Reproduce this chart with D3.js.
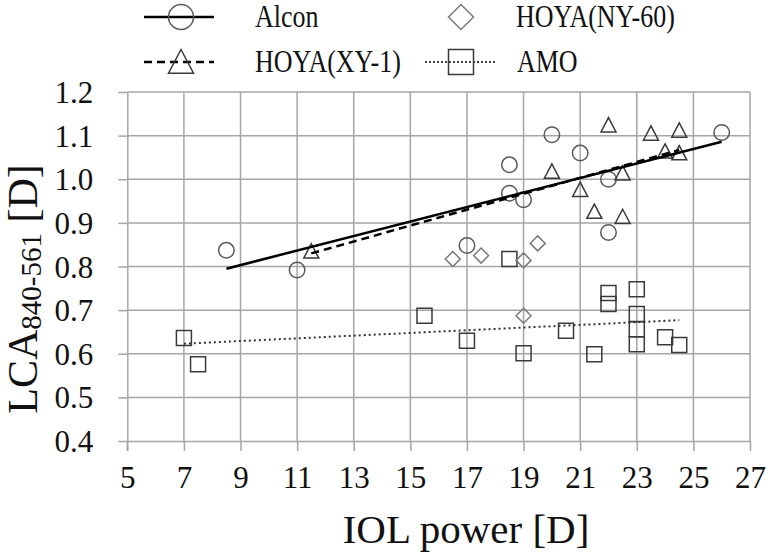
<!DOCTYPE html>
<html>
<head>
<meta charset="utf-8">
<script src="https://cdn.jsdelivr.net/npm/d3@7"></script>
<style>
  body { margin: 0; background: #fff; }
  text { font-family: "Liberation Serif", "Times New Roman", serif; fill: #111; }
</style>
</head>
<body>
<div id="chart"></div>
<script>
// values
const alconX = [8.5, 11, 17, 18.5, 18.5, 19, 20, 21, 22, 22, 26];
const alconY = [0.837, 0.792, 0.848, 1.033, 0.968, 0.953, 1.102, 1.060, 1.000, 0.878, 1.107];

const xy1X = [11.5, 20, 21, 21.5, 22, 22.5, 22.5, 23.5, 24, 24.5, 24.5];
const xy1Y = [0.835, 1.018, 0.976, 0.926, 1.124, 1.014, 0.914, 1.105, 1.064, 1.112, 1.060];

const ny60X = [16.5, 17.5, 19, 19, 19.5];
const ny60Y = [0.817, 0.825, 0.814, 0.687, 0.853];

const amoX = [7, 7.5, 15.5, 17, 18.5, 19, 20.5, 21.5, 22, 22, 23, 23, 23, 23, 24, 24.5];
const amoY = [0.636, 0.576, 0.687, 0.630, 0.817, 0.601, 0.653, 0.599, 0.739, 0.714, 0.748, 0.691, 0.656, 0.622, 0.638, 0.620];

// trend line end points
const alconFit = [[8.5, 0.795], [26, 1.086]];
const xy1Fit = [[11.5, 0.830], [24.5, 1.067]];
const amoFit = [[7, 0.623], [24.5, 0.677]];

const xTicks = [5, 7, 9, 11, 13, 15, 17, 19, 21, 23, 25, 27];
const yTicks = [0.4, 0.5, 0.6, 0.7, 0.8, 0.9, 1.0, 1.1, 1.2];

const width = 766, height = 555;
const margin = { top: 92, right: 16, bottom: 114, left: 127.3 };
const gridColor = "#a6a6a6";

const svg = d3.select("#chart")
  .append("svg")
  .attr("width", width)
  .attr("height", height)
  .attr("viewBox", [0, 0, width, height]);

const x = d3.scaleLinear()
  .domain([5, 27])
  .range([margin.left, width - margin.right]);

const y = d3.scaleLinear()
  .domain([0.4, 1.2])
  .range([height - margin.bottom, margin.top]);

// grid
svg.append("g")
  .selectAll("line.v")
  .data(xTicks.slice(1))
  .join("line")
  .attr("x1", d => x(d)).attr("x2", d => x(d))
  .attr("y1", y(1.2)).attr("y2", y(0.4))
  .attr("stroke", gridColor).attr("stroke-width", 1.5);

svg.append("g")
  .selectAll("line.h")
  .data(yTicks.slice(1))
  .join("line")
  .attr("x1", x(5)).attr("x2", x(27))
  .attr("y1", d => y(d)).attr("y2", d => y(d))
  .attr("stroke", gridColor).attr("stroke-width", 1.5);

// axes
const xAxis = svg.append("g")
  .attr("transform", `translate(0,${y(0.4)})`)
  .call(d3.axisBottom(x).tickValues(xTicks).tickSize(10).tickSizeOuter(0));
xAxis.select(".domain").attr("stroke", gridColor).attr("stroke-width", 1.5);
xAxis.selectAll(".tick line").attr("stroke", gridColor).attr("stroke-width", 1.5);
xAxis.selectAll(".tick text")
  .attr("y", 47).attr("dy", 0)
  .attr("font-size", 31)
  .attr("font-family", "Liberation Serif")
  .attr("fill", "#111");

const yAxis = svg.append("g")
  .attr("transform", `translate(${x(5)},0)`)
  .call(d3.axisLeft(y).tickValues(yTicks).tickSize(9).tickSizeOuter(0)
    .tickFormat(d3.format(".1f")));
yAxis.select(".domain").attr("stroke", gridColor).attr("stroke-width", 1.5);
yAxis.selectAll(".tick line").attr("stroke", gridColor).attr("stroke-width", 1.5);
yAxis.selectAll(".tick text")
  .attr("x", -34).attr("dy", "0.34em")
  .attr("font-size", 31)
  .attr("font-family", "Liberation Serif")
  .attr("fill", "#111");
// let the y axis line reach the first x tick
svg.append("line")
  .attr("x1", x(5)).attr("x2", x(5))
  .attr("y1", y(0.4)).attr("y2", y(0.4) + 10)
  .attr("stroke", gridColor).attr("stroke-width", 1.5);

// marker shapes
function shapePath(type, s) {
  const h = s / 2;
  if (type === "circle") return d3.symbol(d3.symbolCircle, Math.PI * h * h)();
  if (type === "square") return `M${-h},${-h}H${h}V${h}H${-h}Z`;
  if (type === "diamond") return `M0,${-h}L${h},0L0,${h}L${-h},0Z`;
  if (type === "triangle") return `M0,${-h}L${h},${h * 0.9}L${-h},${h * 0.9}Z`;
}

function drawPoints(xs, ys, type, color, size) {
  svg.append("g")
    .selectAll("path")
    .data(xs.map((d, i) => [d, ys[i]]))
    .join("path")
    .attr("transform", d => `translate(${x(d[0])},${y(d[1])})`)
    .attr("d", shapePath(type, size))
    .attr("fill", "none")
    .attr("stroke", color)
    .attr("stroke-width", 1.5);
}

drawPoints(amoX, amoY, "square", "#3a3a3a", 15);
drawPoints(ny60X, ny60Y, "diamond", "#7a7a7a", 15);
drawPoints(alconX, alconY, "circle", "#595959", 15.5);
drawPoints(xy1X, xy1Y, "triangle", "#3a3a3a", 15);

// trend lines
const line = d3.line().x(d => x(d[0])).y(d => y(d[1]));

svg.append("path").datum(alconFit)
  .attr("d", line).attr("fill", "none")
  .attr("stroke", "#000").attr("stroke-width", 2.5);

svg.append("path").datum(xy1Fit)
  .attr("d", line).attr("fill", "none")
  .attr("stroke", "#000").attr("stroke-width", 2.5)
  .attr("stroke-dasharray", "8,5");

svg.append("path").datum(amoFit)
  .attr("d", line).attr("fill", "none")
  .attr("stroke", "#333").attr("stroke-width", 2)
  .attr("stroke-dasharray", "2,3");

// legend
const legendItems = [
  { name: "Alcon", type: "circle", color: "#595959", dash: null, lx: 144, mx: 181, tx: 255, ty: 17 },
  { name: "HOYA(NY-60)", type: "diamond", color: "#7a7a7a", dash: "none", lx: null, mx: 461, tx: 516, ty: 17 },
  { name: "HOYA(XY-1)", type: "triangle", color: "#3a3a3a", dash: "8,5", lx: 144, mx: 181, tx: 255, ty: 62 },
  { name: "AMO", type: "square", color: "#3a3a3a", dash: "2,2", lx: 425, mx: 461, tx: 517, ty: 62 }
];

const legend = svg.append("g");
legendItems.forEach(d => {
  if (d.lx !== null) {
    legend.append("line")
      .attr("x1", d.lx).attr("x2", d.lx + 70)
      .attr("y1", d.ty).attr("y2", d.ty)
      .attr("stroke", "#000")
      .attr("stroke-width", d.type === "square" ? 1.5 : 2.5)
      .attr("stroke-dasharray", d.dash);
  }
  legend.append("path")
    .attr("transform", `translate(${d.mx},${d.ty})`)
    .attr("d", shapePath(d.type, 25))
    .attr("fill", "none")
    .attr("stroke", d.color)
    .attr("stroke-width", 1.5);
  legend.append("text")
    .attr("transform", `translate(${d.tx},${d.ty + 10}) scale(1,1.2)`)
    .attr("font-size", 26)
    .text(d.name);
});

// axis titles
svg.append("text")
  .attr("x", 466)
  .attr("y", 543)
  .attr("text-anchor", "middle")
  .attr("font-size", 41)
  .text("IOL power [D]");

const yTitle = svg.append("text")
  .attr("transform", "translate(37,289) rotate(-90)")
  .attr("text-anchor", "middle")
  .attr("font-size", 42);
yTitle.append("tspan").text("LCA");
yTitle.append("tspan").attr("font-size", 29).attr("dy", 4).text("840-561");
yTitle.append("tspan").attr("dy", -4).text(" [D]");
</script>
</body>
</html>
